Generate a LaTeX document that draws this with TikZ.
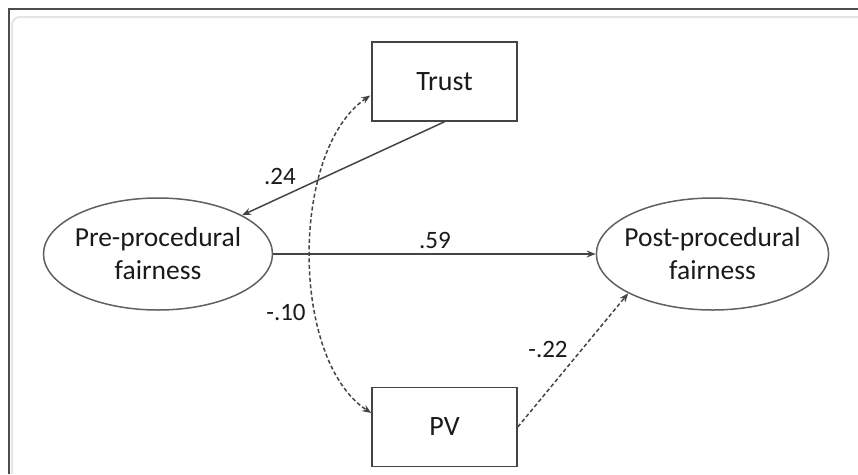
\documentclass[tikz,border=0pt]{standalone}
\usepackage{fontspec}
\setmainfont{Carlito}
\usetikzlibrary{arrows.meta,shapes.geometric,calc}
\definecolor{lineC}{HTML}{444444}
\definecolor{textC}{HTML}{1A1A1A}
\begin{document}
\begin{tikzpicture}[x=1pt,y=-1pt,
  every node/.style={text=textC},
  obsbox/.style={draw=lineC, line width=1.5pt, minimum width=145pt, minimum height=79pt, inner sep=0pt, font=\fontsize{28}{33}\selectfont},
  latent/.style={draw=lineC!85, line width=1.5pt, ellipse, minimum width=229pt, minimum height=112pt, inner xsep=-6pt, inner ysep=0pt, align=center, font=\fontsize{27.5}{33}\selectfont},
  coef/.style={font=\fontsize{25}{30}\selectfont, inner sep=0pt},
  path/.style={draw=lineC, line width=1.5pt, -{Stealth[length=9pt,width=7pt]}},
  dpath/.style={path, dash pattern=on 4pt off 2.5pt},
  ddpath/.style={draw=lineC, line width=1.5pt, dash pattern=on 4pt off 2.5pt, {Stealth[length=9pt,width=7pt]}-{Stealth[length=9pt,width=7pt]}}
]
\useasboundingbox (0,0) rectangle (858,474);
% frame
\draw[black!70, line width=1.3pt] (9,474) -- (9,9) -- (858,9);
\draw[black!10, line width=2pt, rounded corners=8pt] (12,474) -- (12,17) -- (858,17);

\node[obsbox] (trust) at (444.5,81.5) {Trust};
\node[obsbox] (pv) at (444.5,427) {PV};
\node[latent] (pre) at (158,254) {Pre-procedural\\fairness};
\node[latent] (post) at (712.5,254) {Post-procedural\\fairness};

\draw[path] (trust.south) -- (pre);
\draw[path] (pre.east) -- (post.west);
\draw[dpath] (pv.east) -- (post.205);
\draw[ddpath] ($(trust.west)+(-1,14)$) .. controls (290,150) and (290,360) .. ($(pv.west)+(0,-14)$);

\node[coef] (l24) at (280,176) {.24};
\node[coef] (l59) at (435,240) {.59};
\node[coef] (l10) at (286,312) {-.10};
\node[coef] (l22) at (548,349) {-.22};
\end{tikzpicture}
\end{document}
